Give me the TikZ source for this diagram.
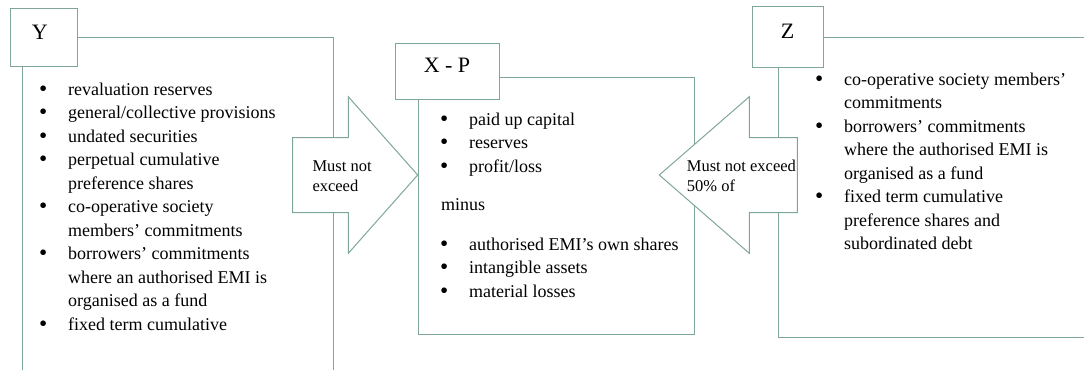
\documentclass[tikz,border=0pt]{standalone}
\usepackage{fontspec}
\usepackage{graphicx}
\setmainfont{Liberation Serif}
\definecolor{linec}{RGB}{127,167,153}
\newcommand{\bitem}{\makebox[29pt][l]{\raisebox{-1pt}{\scalebox{1.3}{\textbullet}}}}
\newcommand{\bcont}{\hspace*{29pt}}
\begin{document}
\begin{tikzpicture}[x=1pt,y=-1pt,
  frame/.style={draw=linec, line width=1pt},
  labelbox/.style={draw=linec, line width=1pt, fill=white, inner sep=0pt,
    text height=15pt, text depth=11.5pt, font=\fontsize{22}{26}\selectfont},
  arrowshape/.style={draw=linec, line width=1pt, fill=white, line join=miter},
  listtext/.style={anchor=base west, inner sep=0pt, font=\fontsize{18}{23.5}\selectfont},
  arrowtext/.style={anchor=base west, inner sep=0pt, font=\fontsize{16.5}{20}\selectfont}]
\useasboundingbox (0,0) rectangle (1084,370);

% ---- frames of the three boxes
\draw[frame] (77.7,37.3) -- (333.3,37.3) -- (333.3,370);
\draw[frame] (22.7,66.7) -- (22.7,370);
\draw[frame] (499,77.3) -- (694,77.3) -- (694,334) -- (418,334) -- (418,99);
\draw[frame] (823,37.3) -- (1084,37.3);
\draw[frame] (778.5,67) -- (778.5,337) -- (1084,337);

% ---- block arrows
\draw[arrowshape] (292.7,137.7) -- (348.3,137.7) -- (348.3,96.7) -- (417.7,175)
  -- (348.3,253.3) -- (348.3,212.7) -- (292.7,212.7) -- cycle;
\draw[arrowshape] (797.3,137.7) -- (749.3,137.7) -- (749.3,96.7) -- (659.3,175)
  -- (749.3,253.3) -- (749.3,212.7) -- (797.3,212.7) -- cycle;

% ---- label boxes
\node[labelbox, minimum width=67.7pt, minimum height=58.4pt] (ylab) at (43.85,37.5) {\hspace*{-8pt}Y};
\node[labelbox, minimum width=104pt, minimum height=56pt] (xlab) at (447,71) {X - P};
\node[labelbox, minimum width=71pt, minimum height=61pt] (zlab) at (787.5,36.5) {Z};

% ---- arrow texts
\node[arrowtext] (leftarrowtext) at (312.3,171) {\begin{tabular}[t]{@{}l@{}}Must not\\exceed\end{tabular}};
\node[arrowtext] (rightarrowtext) at (686.7,171) {\begin{tabular}[t]{@{}l@{}}Must not exceed\\50\% of\end{tabular}};

% ---- lists
\node[listtext] (ylist) at (39,95) {\begin{tabular}[t]{@{}l@{}}
\bitem revaluation reserves\\
\bitem general/collective provisions\\
\bitem undated securities\\
\bitem perpetual cumulative\\
\bcont preference shares\\
\bitem co-operative society\\
\bcont members’ commitments\\
\bitem borrowers’ commitments\\
\bcont where an authorised EMI is\\
\bcont organised as a fund\\
\bitem fixed term cumulative
\end{tabular}};

\node[listtext] (xlist1) at (440,125) {\begin{tabular}[t]{@{}l@{}}
\bitem paid up capital\\
\bitem reserves\\
\bitem profit/loss
\end{tabular}};
\node[listtext] (minus) at (441,210) {minus};
\node[listtext] (xlist2) at (440,250) {\begin{tabular}[t]{@{}l@{}}
\bitem authorised EMI’s own shares\\
\bitem intangible assets\\
\bitem material losses
\end{tabular}};

\node[listtext] (zlist) at (815,85) {\begin{tabular}[t]{@{}l@{}}
\bitem co-operative society members’\\
\bcont commitments\\
\bitem borrowers’ commitments\\
\bcont where the authorised EMI is\\
\bcont organised as a fund\\
\bitem fixed term cumulative\\
\bcont preference shares and\\
\bcont subordinated debt
\end{tabular}};
\end{tikzpicture}
\end{document}
